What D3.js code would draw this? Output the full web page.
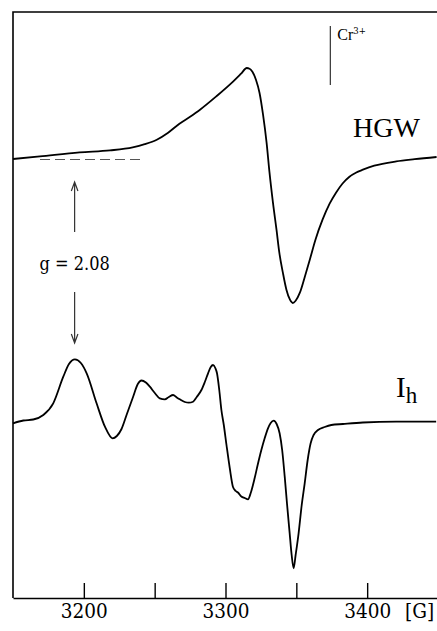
<!DOCTYPE html>
<html>
<head>
<meta charset="utf-8">
<script src="https://cdn.jsdelivr.net/npm/d3@7"></script>
<style>
	body { margin: 0; background: #fff; }
	svg { display: block; }
	text { font-family: 'Liberation Serif', serif; fill: #000; }
	text.num, tspan.num { font-family: 'DejaVu Serif Condensed', 'DejaVu Serif', serif; }
</style>
</head>
<body>
<svg class="epr"></svg>
<script>
//field values [G] and intensities (arbitrary units)
const hgwField = [3150, 3169, 3197, 3218.5, 3234.5, 3243, 3251.5, 3259.5, 3267.5, 3275, 3282, 3293.5, 3305.5, 3311, 3315, 3317, 3319, 3321.5, 3324, 3326.5, 3329, 3331, 3333.5, 3336, 3338, 3340.5, 3343, 3345.5, 3347.5, 3349.5, 3352.5, 3356, 3359.5, 3363.5, 3368.5, 3373.5, 3378, 3382.5, 3387.5, 3392, 3397, 3405, 3420.5, 3433.5, 3449]
const hgwSignal = [0, 2.6, 6.6, 8.6, 11.6, 14.8, 19.3, 26.3, 35.3, 42.3, 49.3, 62.6, 77.6, 85.3, 91, 90.3, 87.3, 79.3, 66.3, 44.3, 16.3, -12.7, -43.7, -70.7, -93.7, -113.7, -130.7, -140.7, -144, -141.7, -133.7, -117.7, -100.7, -80.7, -60.7, -44.7, -33.7, -24.7, -17.7, -13.7, -10.7, -6.7, -2.4, -0.2, 2]

const ihField = [3150, 3157.3, 3164.3, 3171.4, 3178.4, 3185.5, 3189.5, 3193.7, 3197.9, 3202, 3209, 3214.9, 3220.3, 3223.3, 3226.6, 3230.4, 3234.8, 3238.1, 3240.7, 3243.8, 3246.6, 3250.1, 3253.6, 3257.2, 3260, 3263, 3265.6, 3267.7, 3271.3, 3274.1, 3277.1, 3279.7, 3283, 3285.4, 3287.7, 3289.6, 3291.2, 3292.8, 3294, 3295.6, 3297.1, 3298.8, 3300.7, 3303, 3305.3, 3307.2, 3308.8, 3311.2, 3313.6, 3315.9, 3317.8, 3320.6, 3322.7, 3325.3, 3327.7, 3330, 3331.9, 3334, 3336.1, 3338.2, 3340, 3341.8, 3343.5, 3345.3, 3346.7, 3348.1, 3349.5, 3351.6, 3353.8, 3355.9, 3358, 3360.1, 3362.2, 3365.3, 3370, 3374.7, 3382.9, 3397, 3420.5, 3448.7]
const ihSignal = [-0.3, 2.5, 3.5, 8, 19.7, 46.3, 59, 63.7, 60, 49.7, 19.7, -3.7, -15.3, -13, -6, 9, 26.3, 39, 42.5, 40.5, 36.3, 30, 24.7, 23.7, 26, 28, 25.5, 23.7, 21, 20.3, 21.3, 26, 33, 41, 49.7, 56, 58, 55, 49.7, 33, 13, -2, -22, -45, -64, -68, -69.5, -73.5, -75, -76.3, -70, -55, -42, -27, -15, -5.3, 0, 2.3, -1, -10.3, -27, -53.7, -82, -110.3, -132, -145.3, -132, -110.3, -82, -60.3, -37, -20.3, -12, -7, -4, -2, -1, 0.5, 1.3, 1.3]

const tickValues = [3200, 3250, 3300, 3350, 3400, 3450]
const tickLabels = ['3200', '', '3300', '', '3400', '']

const gMarkerField = 3193.5 //g = 2.08
const crMarkerField = 3374
const dashEndField = 3242

const svgWidth = 437,
	svgHeight = 631

//vertical position of each spectrum's baseline in intensity units
const hgwOffset = 439,
	ihOffset = 175

const svg = d3.select('.epr').attr('width', svgWidth).attr('height', svgHeight)

const xScale = d3.scaleLinear().domain([3150, 3450]).range([13, 438])
const yScale = d3.scaleLinear().domain([0, 586]).range([598, 12])

//frame
svg
	.append('path')
	.attr('d', 'M' + xScale(3450) + ',' + yScale(586) + 'H' + xScale(3150) + 'V' + yScale(0))
	.attr('fill', 'none')
	.attr('stroke', '#000')
	.attr('stroke-width', 1.6)

//x axis with inward ticks
const xAxis = d3
	.axisBottom(xScale)
	.tickValues(tickValues)
	.tickFormat((d, i) => tickLabels[i])
	.tickSizeInner(-15)
	.tickSizeOuter(0)
	.tickPadding(5)

const axisG = svg.append('g').attr('transform', 'translate(0,' + yScale(0) + ')').call(xAxis)
axisG.attr('font-family', null)
axisG.select('.domain').attr('stroke', '#000').attr('stroke-width', 1.6)
axisG.selectAll('.tick line').attr('stroke', '#000').attr('stroke-width', 1.4)
axisG.selectAll('.tick text').attr('class', 'num').attr('font-size', 20.5).attr('fill', '#000')

svg
	.append('text')
	.attr('class', 'num')
	.attr('x', 405)
	.attr('y', 618)
	.attr('font-size', 20.5)
	.text('[G]')

//spectra
const line = offset =>
	d3
		.line()
		.x(d => xScale(d[0]))
		.y(d => yScale(offset + d[1]))
		.curve(d3.curveMonotoneX)

svg
	.append('path')
	.datum(d3.zip(hgwField, hgwSignal))
	.attr('d', line(hgwOffset))
	.attr('fill', 'none')
	.attr('stroke', '#000')
	.attr('stroke-width', 1.8)

svg
	.append('path')
	.datum(d3.zip(ihField, ihSignal))
	.attr('d', line(ihOffset))
	.attr('fill', 'none')
	.attr('stroke', '#000')
	.attr('stroke-width', 1.8)

//dashed baseline
svg
	.append('line')
	.attr('x1', xScale(3150) + 27)
	.attr('x2', xScale(dashEndField))
	.attr('y1', yScale(hgwOffset) + 0.5)
	.attr('y2', yScale(hgwOffset) + 0.5)
	.attr('stroke', '#555')
	.attr('stroke-width', 1.2)
	.attr('stroke-dasharray', '10,5')

//g marker arrows
const gx = xScale(gMarkerField)
svg
	.append('path')
	.attr('d', 'M' + gx + ',232V182M' + (gx - 3.3) + ',191L' + gx + ',182L' + (gx + 3.3) + ',191')
	.attr('fill', 'none')
	.attr('stroke', '#333')
	.attr('stroke-width', 1.2)
svg
	.append('path')
	.attr('d', 'M' + gx + ',292V343M' + (gx - 3.3) + ',334L' + gx + ',343L' + (gx + 3.3) + ',334')
	.attr('fill', 'none')
	.attr('stroke', '#333')
	.attr('stroke-width', 1.2)
svg
	.append('text')
	.attr('class', 'num')
	.attr('x', gx)
	.attr('y', 270)
	.attr('text-anchor', 'middle')
	.attr('font-size', 18)
	.text('g = 2.08')

//Cr3+ marker
const cx = xScale(crMarkerField)
svg
	.append('line')
	.attr('x1', cx)
	.attr('x2', cx)
	.attr('y1', 26)
	.attr('y2', 85)
	.attr('stroke', '#333')
	.attr('stroke-width', 1.2)
const cr = svg.append('text').attr('x', cx + 7).attr('y', 40).attr('font-size', 16)
cr.append('tspan').text('Cr')
cr.append('tspan').attr('class', 'num').attr('font-size', 9.5).attr('dy', -6).text('3+')

//labels
svg.append('text').attr('x', 353).attr('y', 137).attr('font-size', 28).text('HGW')
const ih = svg.append('text').attr('x', 396).attr('y', 397).attr('font-size', 29)
ih.append('tspan').text('I')
ih.append('tspan').attr('font-size', 23).attr('dy', 6).text('h')
</script>
</body>
</html>
